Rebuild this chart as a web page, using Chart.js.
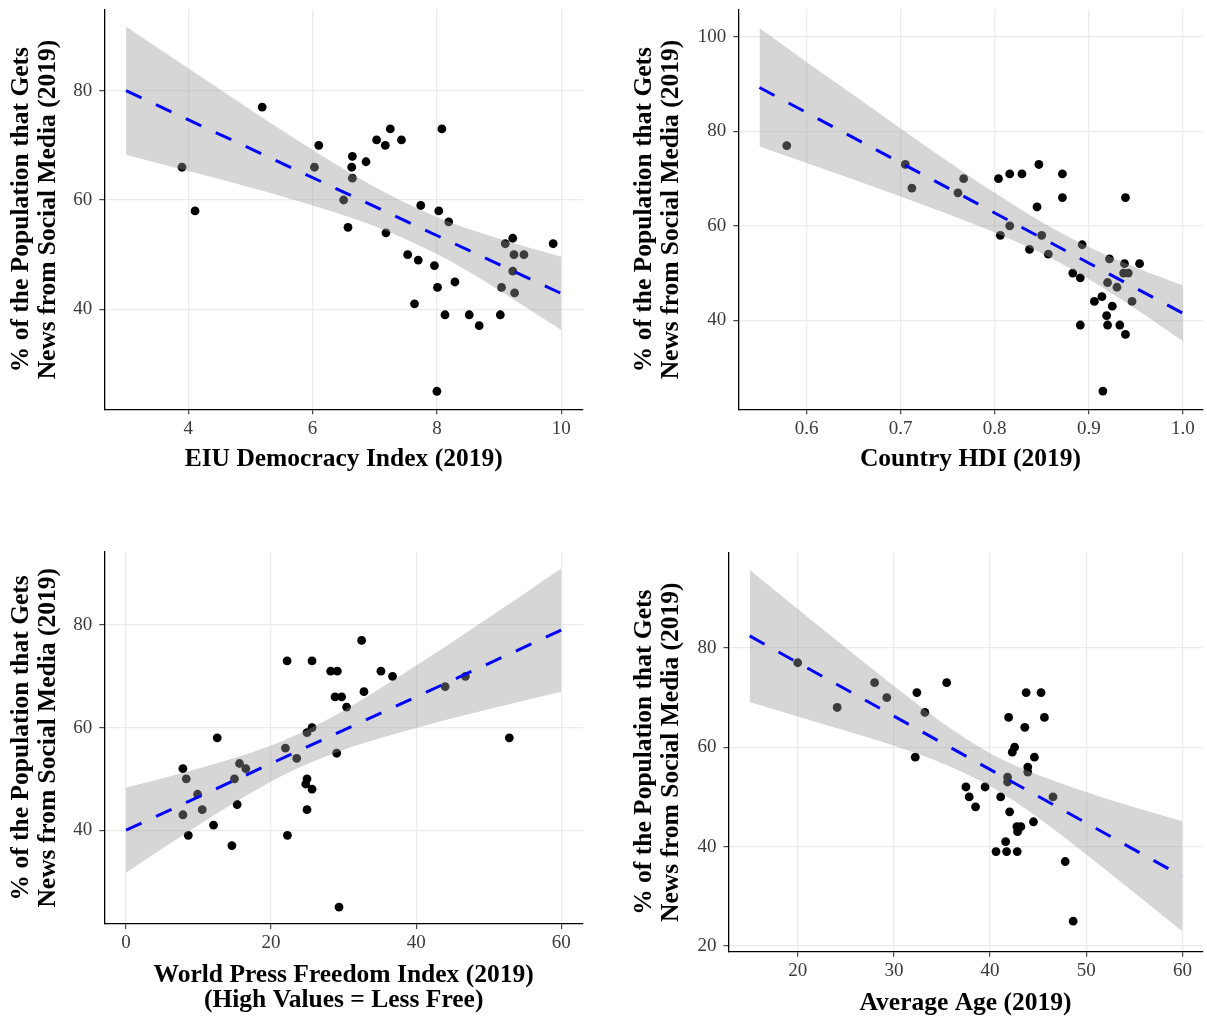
<!DOCTYPE html>
<html>
<head>
<meta charset="utf-8">
<script src="https://cdn.jsdelivr.net/npm/chart.js@4.4.1/dist/chart.umd.min.js"></script>
<style>
  html, body { margin: 0; padding: 0; background: #ffffff; }
  #wrap { position: relative; width: 1207px; height: 1020px; background: #ffffff; overflow: hidden; }
  canvas { position: absolute; left: 0; top: 0; }
</style>
</head>
<body>
<div id="wrap">
  <canvas id="c1" width="1207" height="1020"></canvas>
  <canvas id="c2" width="1207" height="1020"></canvas>
  <canvas id="c3" width="1207" height="1020"></canvas>
  <canvas id="c4" width="1207" height="1020"></canvas>
</div>
<script>
// ---------- shared labels ----------
const yTitle = ['% of the Population that Gets', 'News from Social Media (2019)'];

// ---------- Panel 1: EIU Democracy Index ----------
const demTitle = 'EIU Democracy Index (2019)';
const demX = [3.90,4.11,5.19,6.03,6.10,6.64,6.63,6.64,6.50,6.57,6.86,7.03,7.17,7.25,7.43,7.18,7.74,8.03,8.19,8.08,7.53,7.70,7.96,7.64,8.01,8.29,8.13,8.52,8.68,9.02,9.04,9.10,9.22,9.24,9.40,9.22,9.25,9.87,8.00];
const demY = [66,58,77,66,70,68,66,64,60,55,67,71,70,73,71,54,59,58,56,73,50,49,48,41,44,45,39,39,37,39,44,52,53,50,50,47,43,52,25];
const demFitX = [3, 10];
const demFitY = [80, 42.9];
const demBandX = [3,4,5,6,7,8,9,10];
const demBandUp = [91.7,84.1,76.5,69.2,62.4,56.9,52.9,49.6];
const demBandLo = [68.3,65.3,62.3,59.0,55.2,50.1,43.5,36.2];
const demXTicks = [4,6,8,10];
const demXLabels = ['4','6','8','10'];
const demYTicks = [40,60,80];
const demYLabels = ['40','60','80'];

// ---------- Panel 2: Country HDI ----------
const hdiTitle = 'Country HDI (2019)';
const hdiX = [0.579,0.705,0.712,0.767,0.761,0.804,0.816,0.829,0.847,0.872,0.872,0.939,0.845,0.816,0.806,0.850,0.837,0.857,0.893,0.922,0.938,0.954,0.937,0.942,0.883,0.891,0.920,0.930,0.946,0.914,0.906,0.925,0.919,0.891,0.920,0.933,0.939,0.915];
const hdiY = [77,73,68,70,67,70,71,71,73,71,66,66,64,60,58,58,55,54,56,53,52,52,50,50,50,49,48,47,44,45,44,43,41,39,39,39,37,25];
const hdiFitX = [0.55, 1.0];
const hdiFitY = [89.3, 41.5];
const hdiBandX = [0.55,0.60,0.65,0.70,0.75,0.80,0.85,0.90,0.95,1.00];
const hdiBandUp = [101.9,94.7,87.7,80.6,73.7,67.0,60.8,55.5,51.2,47.4];
const hdiBandLo = [76.8,73.3,69.8,66.2,62.5,58.6,54.2,48.7,42.4,35.6];
const hdiXTicks = [0.6,0.7,0.8,0.9,1.0];
const hdiXLabels = ['0.6','0.7','0.8','0.9','1.0'];
const hdiYTicks = [40,60,80,100];
const hdiYLabels = ['40','60','80','100'];

// ---------- Panel 3: World Press Freedom Index ----------
const pressTitle = ['World Press Freedom Index (2019)', '(High Values = Less Free)'];
const pressX = [7.84,8.30,9.86,7.84,10.5,8.58,12.06,12.57,14.59,14.95,15.32,15.64,16.51,21.97,22.2,22.25,23.53,24.95,25.64,25.64,24.95,24.77,25.64,24.95,28.21,29.13,28.81,29.72,30.41,29.04,32.48,32.8,35.14,36.74,43.99,46.79,52.84,29.36];
const pressY = [52,50,47,43,44,39,41,58,37,50,45,53,52,56,73,39,54,59,60,73,50,49,48,44,71,71,66,66,64,55,77,67,71,70,68,70,58,25];
const pressFitX = [0, 60];
const pressFitY = [40, 79];
const pressBandX = [0,5,10,15,20,25,30,35,40,45,50,55,60];
const pressBandUp = [48.3,50.1,52.0,54.1,56.5,59.6,63.3,67.6,72.1,76.7,81.4,86.2,91.0];
const pressBandLo = [31.7,36.4,41.0,45.4,49.5,52.9,55.7,57.9,59.9,61.8,63.6,65.3,67.0];
const pressXTicks = [0,20,40,60];
const pressXLabels = ['0','20','40','60'];
const pressYTicks = [40,60,80];
const pressYLabels = ['40','60','80'];

// ---------- Panel 4: Average Age ----------
const ageTitle = 'Average Age (2019)';
const ageX = [20.0,24.1,27.99,29.26,32.39,33.22,32.22,35.49,37.49,37.83,38.49,39.48,40.62,41.72,42.82,41.62,41.1,41.82,41.82,41.93,42.03,42.31,42.55,42.79,43.2,42.86,43.61,43.75,43.92,43.92,44.61,44.51,45.3,45.65,46.54,47.81,48.64];
const ageY = [77,68,73,70,71,67,58,73,52,50,48,52,39,39,39,41,50,54,53,66,47,59,60,44,44,43,64,71,56,55,58,45,71,66,50,37,25];
const ageFitX = [15, 60];
const ageFitY = [82.4, 34.0];
const ageBandX = [15,20,25,30,35,40,45,50,55,60];
const ageBandUp = [95.7,87.8,80.0,72.3,65.0,58.8,54.4,51.0,47.9,45.1];
const ageBandLo = [69.1,66.2,63.3,60.3,56.8,52.2,45.8,38.4,30.7,22.9];
const ageXTicks = [20,30,40,50,60];
const ageXLabels = ['20','30','40','50','60'];
const ageYTicks = [20,40,60,80];
const ageYLabels = ['20','40','60','80'];

// ---------- drawing ----------
const FAM = 'Liberation Serif';
const pts = (xs, ys) => xs.map((x, i) => ({ x: x, y: ys[i] }));

function makePanel(canvasId, d, layout) {
  const cfg = {
    type: 'line',
    data: {
      datasets: [
        { data: pts(d.fitX, d.fitY), borderColor: '#0000ff', borderWidth: 3, borderDash: [17, 16],
          pointRadius: 0, fill: false, tension: 0, order: 0 },
        { data: pts(d.bandX, d.bandUp), borderColor: 'rgba(0,0,0,0)', borderWidth: 0, pointRadius: 0,
          fill: '+1', backgroundColor: 'rgba(153,153,153,0.4)', cubicInterpolationMode: 'monotone', order: 1 },
        { data: pts(d.bandX, d.bandLo), borderColor: 'rgba(0,0,0,0)', borderWidth: 0, pointRadius: 0,
          fill: false, cubicInterpolationMode: 'monotone', order: 2 },
        { data: pts(d.xs, d.ys), showLine: false, pointRadius: 4.4, pointHoverRadius: 4.4,
          pointBackgroundColor: '#000000', pointBorderWidth: 0, pointBorderColor: 'rgba(0,0,0,0)', order: 3 }
      ]
    },
    options: {
      responsive: false, animation: false, devicePixelRatio: 1,
      events: [],
      layout: { padding: { left: 0, top: 0, right: 0, bottom: 0 } },
      plugins: { legend: { display: false }, tooltip: { enabled: false } },
      scales: {
        x: {
          type: 'linear', min: layout.xMin, max: layout.xMax,
          afterBuildTicks: s => { s.ticks = d.xTicks.map(v => ({ value: v })); },
          afterFit: s => { s.height = layout.xH; },
          ticks: { callback: (v, i) => d.xLabels[i], font: { family: FAM, size: 19 }, color: '#3a3a3a',
                   padding: 3, maxRotation: 0, autoSkip: false },
          grid: { color: '#ebebeb', lineWidth: 1.3, tickLength: 5, tickColor: '#333333', tickWidth: 1.1 },
          border: { display: true, color: '#000000', width: 1.3 },
          title: { display: true, text: d.xTitle, color: '#000000',
                   font: { family: FAM, size: 25.5, weight: 'bold', lineHeight: layout.xTitleLH || 1.06 },
                   padding: { top: 0, bottom: 0 } }
        },
        y: {
          type: 'linear', min: layout.yMin, max: layout.yMax,
          afterBuildTicks: s => { s.ticks = d.yTicks.map(v => ({ value: v })); },
          afterFit: s => { s.width = layout.yW; },
          ticks: { callback: (v, i) => d.yLabels[i], font: { family: FAM, size: 19, lineHeight: 0.3 }, color: '#3a3a3a',
                   padding: 7, autoSkip: false },
          grid: { color: '#ebebeb', lineWidth: 1.3, tickLength: 5, tickColor: '#333333', tickWidth: 1.1 },
          border: { display: true, color: '#000000', width: 1.3 },
          title: { display: true, text: yTitle, color: '#000000',
                   font: { family: FAM, size: 25.5, weight: 'bold', lineHeight: 1.06 },
                   padding: { top: 8, bottom: 0 } }
        }
      }
    }
  };
  const chart = new Chart(document.getElementById(canvasId), cfg);
  const T = layout.area;
  const pad = { left: 0, top: 0, right: 0, bottom: 0 };
  for (let k = 0; k < 2; k++) {
    const ca = chart.chartArea;
    pad.left += T.left - ca.left;
    pad.top += T.top - ca.top;
    pad.right += ca.right - T.right;
    pad.bottom += ca.bottom - T.bottom;
    chart.options.layout.padding = { left: pad.left, top: pad.top, right: pad.right, bottom: pad.bottom };
    chart.update('none');
  }
  return chart;
}

function draw() {
  makePanel('c1', { xs: demX, ys: demY, fitX: demFitX, fitY: demFitY, bandX: demBandX, bandUp: demBandUp, bandLo: demBandLo,
    xTicks: demXTicks, xLabels: demXLabels, yTicks: demYTicks, yLabels: demYLabels, xTitle: demTitle },
    { xMin: 2.65, xMax: 10.35, yMin: 21.7, yMax: 94.8, yW: 104, xH: 64,
      area: { left: 104.3, top: 10, right: 583, bottom: 409.3 } });

  makePanel('c2', { xs: hdiX, ys: hdiY, fitX: hdiFitX, fitY: hdiFitY, bandX: hdiBandX, bandUp: hdiBandUp, bandLo: hdiBandLo,
    xTicks: hdiXTicks, xLabels: hdiXLabels, yTicks: hdiYTicks, yLabels: hdiYLabels, xTitle: hdiTitle },
    { xMin: 0.5275, xMax: 1.021, yMin: 21.15, yMax: 105.75, yW: 115, xH: 64,
      area: { left: 738.3, top: 10, right: 1207, bottom: 409.3 } });

  makePanel('c3', { xs: pressX, ys: pressY, fitX: pressFitX, fitY: pressFitY, bandX: pressBandX, bandUp: pressBandUp, bandLo: pressBandLo,
    xTicks: pressXTicks, xLabels: pressXLabels, yTicks: pressYTicks, yLabels: pressYLabels, xTitle: pressTitle },
    { xMin: -3, xMax: 63, yMin: 21.7, yMax: 94.3, yW: 104, xH: 89.5, xTitleLH: 1.0,
      area: { left: 104.3, top: 551.7, right: 583, bottom: 924 } });

  makePanel('c4', { xs: ageX, ys: ageY, fitX: ageFitX, fitY: ageFitY, bandX: ageBandX, bandUp: ageBandUp, bandLo: ageBandLo,
    xTicks: ageXTicks, xLabels: ageXLabels, yTicks: ageYTicks, yLabels: ageYLabels, xTitle: ageTitle },
    { xMin: 12.8, xMax: 62.1, yMin: 18.85, yMax: 99.15, yW: 106, xH: 65,
      area: { left: 728.5, top: 552.7, right: 1207, bottom: 951.7 } });
}

if (document.fonts && document.fonts.load) {
  Promise.all([
    document.fonts.load('bold 25px "Liberation Serif"'),
    document.fonts.load('19px "Liberation Serif"')
  ]).then(draw, draw);
} else {
  draw();
}
</script>
</body>
</html>
